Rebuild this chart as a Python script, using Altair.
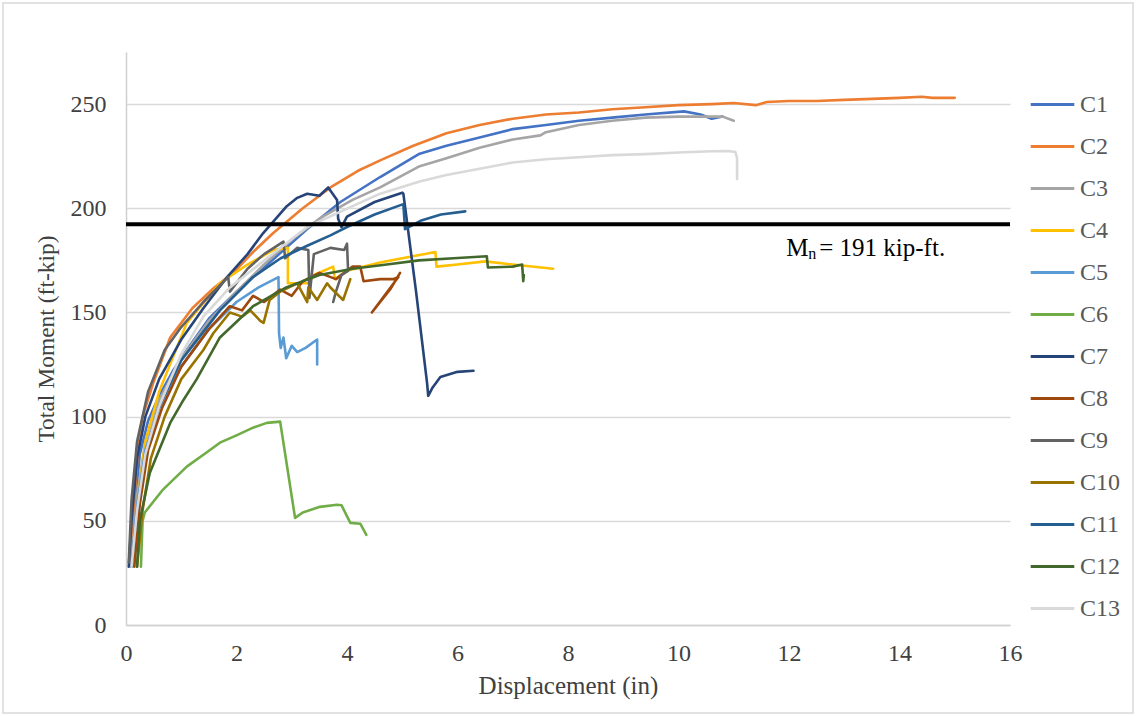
import altair as alt
import pandas as pd

names = ["C1", "C2", "C3", "C4", "C5", "C6", "C7", "C8", "C9", "C10", "C11", "C12", "C13"]
colors = ["#4472C4", "#ED7D31", "#A5A5A5", "#FFC000", "#5B9BD5", "#70AD47", "#264478",
          "#9E480E", "#636363", "#997300", "#255E91", "#43682B", "#D9D9D9"]

C1_x = [0.1, 0.15, 0.25, 0.4, 0.6, 0.85, 1.1, 1.5, 2.0, 2.6, 3.28, 3.88, 4.6, 5.3, 5.8, 6.4, 7.0, 7.6, 8.2, 8.8, 9.4, 10.1, 10.4, 10.6, 10.8]
C1_y = [30, 55, 82, 98, 110, 122, 132, 147, 160, 174, 190, 203, 215, 226, 230, 234, 238, 240, 242, 243.5, 245, 246.5, 245, 243, 244]

C2_x = [0.1, 0.15, 0.22, 0.3, 0.49, 0.8, 1.2, 1.6, 1.94, 2.3, 2.66, 3.2, 3.7, 4.2, 4.6, 5.2, 5.8, 6.4, 7.0, 7.6, 8.2, 8.8, 9.4, 10.0, 10.6, 11.0, 11.4, 11.6, 12.0, 12.5, 13.0, 13.5, 14.0, 14.4, 14.6, 15.0]
C2_y = [30, 60, 85, 100, 116, 138, 152, 162, 169, 179, 188, 200, 210, 218, 223, 230, 236, 240, 243, 245, 246, 247.5, 248.5, 249.5, 250, 250.5, 249.5, 251, 251.5, 251.5, 252, 252.5, 253, 253.5, 253, 253]

C3_x = [0.1, 0.2, 0.35, 0.6, 1.0, 1.5, 2.0, 2.5, 3.0, 3.5, 4.1, 4.6, 5.3, 5.8, 6.4, 7.0, 7.5, 7.6, 8.2, 8.8, 9.4, 10.0, 10.6, 10.8, 11.0]
C3_y = [30, 62, 88, 108, 128, 146, 160, 173, 185, 195, 204, 210, 220, 224, 229, 233, 235, 236.5, 240, 242, 243.5, 244, 244, 244, 242]

C4_x = [0.12, 0.2, 0.35, 0.6, 1.1, 1.7, 2.2, 2.67, 2.93, 2.93, 3.3, 3.4, 3.75, 3.78, 4.0, 4.6, 5.0, 5.6, 5.62, 6.0, 6.5, 7.0, 7.73]
C4_y = [28, 58, 88, 112, 145, 164, 173, 180, 181, 164, 164, 168, 172, 166, 170, 174, 176, 179, 172, 173, 174.5, 173, 171]

C5_x = [0.1, 0.2, 0.35, 0.6, 1.0, 1.5, 2.0, 2.4, 2.76, 2.77, 2.8, 2.85, 2.9, 3.0, 3.1, 3.25, 3.46, 3.46]
C5_y = [28, 58, 84, 104, 124, 142, 155, 162, 167, 140, 133, 138, 128, 134, 131, 133, 137, 125]

C6_x = [0.27, 0.3, 0.34, 0.67, 1.1, 1.47, 1.7, 2.0, 2.3, 2.55, 2.79, 3.06, 3.2, 3.51, 3.82, 3.9, 4.06, 4.24, 4.35]
C6_y = [28, 50, 54, 65, 76, 83, 87.5, 91, 94.7, 97, 97.6, 51.4, 54, 56.7, 57.7, 57.5, 49, 48.6, 43.3]

C7_x = [0.05, 0.1, 0.2, 0.35, 0.6, 1.0, 1.4, 1.83, 2.2, 2.48, 2.91, 3.1, 3.28, 3.5, 3.66, 3.82, 3.84, 3.9, 4.0, 4.5, 5.0, 5.02, 5.25, 5.45, 5.47, 5.55, 5.69, 6.0, 6.29]
C7_y = [28, 50, 80, 100, 118, 137, 152, 167, 178, 188, 201, 205, 207, 206, 210, 204, 195, 191, 196, 203, 207.5, 207, 160, 116, 110, 114, 119, 121.5, 122]

C8_x = [0.15, 0.25, 0.4, 0.65, 1.0, 1.5, 1.88, 2.1, 2.3, 2.5, 2.79, 3.0, 3.2, 3.5, 3.8, 4.1, 4.24, 4.3, 4.6, 4.84, 4.93, 4.45, 4.6, 4.78, 4.96]
C8_y = [28, 58, 84, 104, 124, 142, 153, 151, 158, 155, 161, 158, 165, 169, 166, 172, 172, 165, 166, 166, 167, 150, 155, 161, 169]

C9_x = [0.05, 0.1, 0.2, 0.4, 0.7, 1.0, 1.4, 1.85, 1.88, 2.2, 2.5, 2.85, 2.88, 3.1, 3.3, 3.32, 3.35, 3.4, 3.7, 3.95, 4.0, 4.02, 3.9, 3.8, 3.75]
C9_y = [30, 60, 88, 112, 132, 143, 155, 167, 160, 171, 178, 184, 176, 181, 180, 157, 165, 178, 181, 180, 183, 170, 168, 160, 155]

C10_x = [0.2, 0.3, 0.45, 0.7, 1.0, 1.4, 1.58, 1.88, 2.1, 2.25, 2.43, 2.49, 2.6, 2.79, 3.1, 3.28, 3.3, 3.46, 3.64, 3.7, 3.93, 4.06]
C10_y = [28, 55, 80, 100, 118, 132, 140, 150, 148, 151, 146, 145, 156, 160, 164, 155, 162, 156, 164, 162, 156, 166]

C11_x = [0.1, 0.2, 0.35, 0.6, 1.0, 1.7, 2.3, 2.8, 3.28, 3.7, 4.0, 4.5, 5.02, 5.05, 5.33, 5.7, 6.14]
C11_y = [28, 55, 82, 105, 127, 151, 167, 176, 182, 187, 191, 197, 202, 190, 194, 197, 198.5]

C12_x = [0.2, 0.25, 0.43, 0.8, 1.04, 1.28, 1.7, 2.3, 2.9, 3.5, 4.1, 4.72, 5.3, 5.93, 6.53, 6.55, 7.0, 7.17, 7.19, 7.2]
C12_y = [28, 50, 73, 97, 108, 118, 138, 153, 162, 168, 171, 173, 175, 176, 177, 171.6, 172, 173, 165, 168]

C13_x = [0.1, 0.2, 0.35, 0.6, 1.0, 1.4, 1.88, 2.6, 3.28, 4.1, 4.6, 5.33, 5.8, 6.4, 7.0, 7.6, 8.2, 8.8, 9.4, 10.0, 10.6, 10.9, 11.03, 11.06, 11.06]
C13_y = [28, 55, 82, 105, 130, 148, 162, 177, 191, 201, 207, 213, 216, 219, 222, 223.5, 224.5, 225.5, 226, 226.8, 227.4, 227.5, 227, 224, 214]

MN_LINE = 192.3
x_ticks = [0, 2, 4, 6, 8, 10, 12, 14, 16]
y_ticks = [0, 50, 100, 150, 200, 250]

series = {
    "C1": (C1_x, C1_y), "C2": (C2_x, C2_y), "C3": (C3_x, C3_y), "C4": (C4_x, C4_y),
    "C5": (C5_x, C5_y), "C6": (C6_x, C6_y), "C7": (C7_x, C7_y), "C8": (C8_x, C8_y),
    "C9": (C9_x, C9_y), "C10": (C10_x, C10_y), "C11": (C11_x, C11_y), "C12": (C12_x, C12_y),
    "C13": (C13_x, C13_y),
}

rows = []
for name in names:
    xs, ys = series[name]
    for i, (x, y) in enumerate(zip(xs, ys)):
        rows.append({"series": name, "x": x, "y": y, "i": i})
df = pd.DataFrame(rows)

FONT = "Liberation Serif"

x_scale = alt.Scale(domain=[0, 16], nice=False, zero=True)
y_scale = alt.Scale(domain=[0, 275], nice=False, zero=True)

lines = alt.Chart(df).mark_line(strokeWidth=2.6, strokeJoin="round", strokeCap="round").encode(
    x=alt.X("x:Q", scale=x_scale, axis=alt.Axis(
        values=x_ticks, format="d", labelFlush=False, title="Displacement (in)", grid=False, ticks=False,
        domainColor="#D0D0D0", domainWidth=1.5, labelFont=FONT, labelFontSize=24,
        labelColor="#404040", labelPadding=16, titleFont=FONT, titleFontSize=25,
        titleFontWeight="normal", titleColor="#404040", titlePadding=8)),
    y=alt.Y("y:Q", scale=y_scale, axis=alt.Axis(
        values=y_ticks, format="d", title="Total Moment (ft-kip)", grid=True, gridColor="#D9D9D9",
        gridWidth=1.5, ticks=False, domainColor="#D0D0D0", domainWidth=1.5,
        labelFont=FONT, labelFontSize=24, labelColor="#404040", labelPadding=20,
        titleFont=FONT, titleFontSize=23.5, titleFontWeight="normal", titleColor="#404040",
        titlePadding=12)),
    color=alt.Color("series:N", sort=names, scale=alt.Scale(domain=names, range=colors),
                    legend=alt.Legend(title=None, orient="none", legendX=903, legendY=29,
                                      symbolType="stroke", symbolSize=1900, symbolStrokeWidth=3,
                                      labelFont=FONT, labelFontSize=24, labelColor="#595959",
                                      labelOffset=4, rowPadding=6)),
    detail="series:N",
    order=alt.Order("i:Q"),
)

mn_rule = alt.Chart(pd.DataFrame({"y": [MN_LINE]})).mark_rule(color="black", strokeWidth=4).encode(
    y=alt.Y("y:Q", scale=y_scale)
)

ann = pd.DataFrame({"x": [11.95], "y": [181]})
t_m = alt.Chart(ann).mark_text(text="M", font=FONT, fontSize=25, align="left", baseline="middle",
                               color="black").encode(x=alt.X("x:Q", scale=x_scale), y=alt.Y("y:Q", scale=y_scale))
t_n = alt.Chart(ann).mark_text(text="n", font=FONT, fontSize=16, align="left", baseline="middle",
                               color="black", dx=22, dy=6).encode(x=alt.X("x:Q", scale=x_scale), y=alt.Y("y:Q", scale=y_scale))
t_rest = alt.Chart(ann).mark_text(text="= 191 kip-ft.", font=FONT, fontSize=25, align="left",
                                  baseline="middle", color="black", dx=33).encode(
    x=alt.X("x:Q", scale=x_scale), y=alt.Y("y:Q", scale=y_scale))

frame = alt.Chart(pd.DataFrame({"a": [0]})).mark_rect(fill=None, stroke="#D9D9D9", strokeWidth=1.5).encode(
    x=alt.value(-123), x2=alt.value(1007), y=alt.value(-49), y2=alt.value(661))

chart = alt.layer(frame, lines, mn_rule, t_m, t_n, t_rest).properties(
    width=884, height=573,
    padding={"left": 126, "top": 52, "right": 128, "bottom": 91},
    autosize=alt.AutoSizeParams(type="none"),
    background="white",
).configure_view(stroke=None)

chart.save("out.html", embed_options={"renderer": "svg", "actions": False})
